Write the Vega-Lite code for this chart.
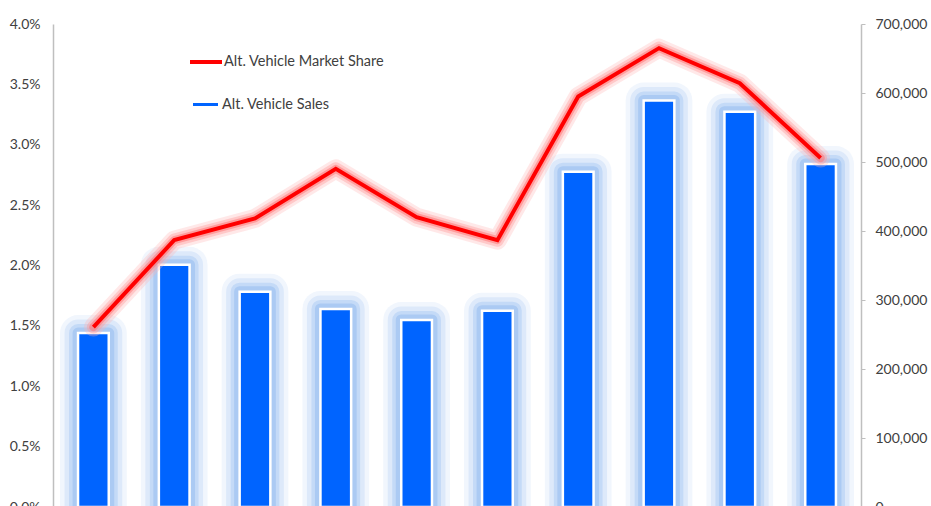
{
  "$schema": "https://vega.github.io/schema/vega-lite/v6.json",
  "width": 808,
  "height": 483,
  "autosize": {"type": "none"},
  "padding": {"left": 53, "top": 24, "right": 70, "bottom": 0},
  "background": "white",
  "config": {
    "view": {"stroke": null},
    "font": "Lato",
    "axis": {
      "labelFont": "Lato",
      "labelFontSize": 14,
      "labelColor": "#404040",
      "grid": false,
      "title": null,
      "domainColor": "#BFBFBF",
      "domainWidth": 1.5,
      "tickColor": "#BFBFBF",
      "tickWidth": 1
    },
    "legend": {
      "labelFont": "Lato",
      "labelFontSize": 14.5,
      "labelColor": "#404040",
      "labelLimit": 400,
      "padding": 0,
      "offset": 0
    }
  },
  "data": {
    "values": [
      {"year": "2006", "sales": 252000, "share": 0.0149},
      {"year": "2007", "sales": 351000, "share": 0.0221},
      {"year": "2008", "sales": 312000, "share": 0.0239},
      {"year": "2009", "sales": 287000, "share": 0.0280},
      {"year": "2010", "sales": 271000, "share": 0.0240},
      {"year": "2011", "sales": 284500, "share": 0.0221},
      {"year": "2012", "sales": 486000, "share": 0.0340},
      {"year": "2013", "sales": 589000, "share": 0.0380},
      {"year": "2014", "sales": 573000, "share": 0.0351},
      {"year": "2015", "sales": 497000, "share": 0.0289}
    ]
  },
  "encoding": {
    "x": {
      "field": "year",
      "type": "ordinal",
      "axis": null,
      "scale": {"paddingInner": 0.62, "paddingOuter": 0.31}
    }
  },
  "layer": [
    {
      "encoding": {
        "y": {
          "field": "sales",
          "type": "quantitative",
          "scale": {"domain": [0, 700000], "nice": false},
          "axis": {
            "orient": "right",
            "values": [0, 100000, 200000, 300000, 400000, 500000, 600000, 700000],
            "format": ",.0f",
            "tickSize": 4,
            "labelPadding": 10
          }
        }
      },
      "layer": [
        {
          "mark": {"type": "bar", "color": "#F1F6FD", "stroke": "#F1F6FD", "strokeWidth": 36, "strokeJoin": "round"}
        },
        {
          "mark": {"type": "bar", "color": "#DDE9FA", "stroke": "#DDE9FA", "strokeWidth": 27, "strokeJoin": "round"}
        },
        {
          "mark": {"type": "bar", "color": "#C4DAF7", "stroke": "#C4DAF7", "strokeWidth": 18, "strokeJoin": "round"}
        },
        {
          "mark": {"type": "bar", "color": "#ABCAF3", "stroke": "#ABCAF3", "strokeWidth": 11, "strokeJoin": "round"}
        },
        {
          "mark": {"type": "bar", "stroke": "white", "strokeWidth": 2.5},
          "encoding": {
            "fill": {
              "datum": "Alt. Vehicle Sales",
              "scale": {"range": ["#0064FF"]},
              "legend": {
                "orient": "none",
                "legendX": 140,
                "legendY": 68,
                "title": null,
                "symbolType": "M-1,-0.12L1,-0.12L1,0.12L-1,0.12Z",
                "symbolSize": 625,
                "symbolStrokeWidth": 0,
                "labelOffset": 4
              }
            }
          }
        }
      ]
    },
    {
      "encoding": {
        "y": {
          "field": "share",
          "type": "quantitative",
          "scale": {"domain": [0, 0.04], "nice": false},
          "axis": {
            "orient": "left",
            "values": [0, 0.005, 0.01, 0.015, 0.02, 0.025, 0.03, 0.035, 0.04],
            "format": ".1%",
            "ticks": false,
            "labelPadding": 13
          }
        }
      },
      "layer": [
        {
          "mark": {"type": "line", "color": "#FFB3B3", "strokeWidth": 19, "opacity": 0.3, "strokeCap": "round", "strokeJoin": "round"}
        },
        {
          "mark": {"type": "line", "color": "#FF9999", "strokeWidth": 13, "opacity": 0.4, "strokeCap": "round", "strokeJoin": "round"}
        },
        {
          "mark": {"type": "line", "color": "#FF7070", "strokeWidth": 8, "opacity": 0.5, "strokeCap": "round", "strokeJoin": "round"}
        },
        {
          "mark": {"type": "line", "strokeWidth": 4},
          "encoding": {
            "stroke": {
              "datum": "Alt. Vehicle Market Share",
              "scale": {"range": ["#FF0000"]},
              "legend": {
                "orient": "none",
                "legendX": 135,
                "legendY": 20,
                "title": null,
                "symbolType": "stroke",
                "symbolSize": 1024,
                "symbolStrokeWidth": 4,
                "labelOffset": 0
              }
            }
          }
        }
      ]
    }
  ],
  "resolve": {"scale": {"y": "independent"}}
}
